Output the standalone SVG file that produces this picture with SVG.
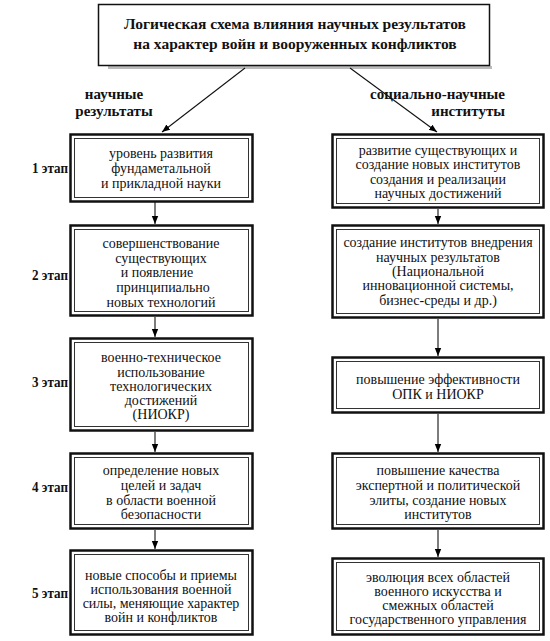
<svg xmlns="http://www.w3.org/2000/svg" width="550" height="641" viewBox="0 0 550 641" font-family="Liberation Serif, Times New Roman, serif">
<defs>
<marker id="ah" viewBox="0 0 10 10" refX="10" refY="5" markerWidth="8" markerHeight="8" markerUnits="userSpaceOnUse" orient="auto">
<path d="M0,1 L10,5 L0,9 Z" fill="#000"/>
</marker>
<style>
.outer{fill:#fff;stroke:#111;stroke-width:2.5}
.inner{fill:none;stroke:#333;stroke-width:1}
.t{font-size:14px;fill:#111;text-anchor:middle}
.b{font-size:15px;font-weight:bold;fill:#111}
.title{font-size:15.5px;font-weight:bold;fill:#111;text-anchor:middle}
.c{stroke:#111;stroke-width:1.1;fill:none;marker-end:url(#ah)}
.sh{fill:#bbb}
</style>
</defs>
<rect width="550" height="641" fill="#fff"/>

<g id="title">
<rect class="sh" x="108" y="66" width="384" height="3"/>
<rect x="98.5" y="4.5" width="391" height="61" fill="#fff" stroke="#111" stroke-width="1.5"/>
<text class="title" x="295" y="29">Логическая схема влияния научных результатов</text>
<text class="title" x="295" y="49">на характер войн и вооруженных конфликтов</text>
</g>

<g id="labels">
<text class="b" x="114" y="99" text-anchor="middle">научные</text>
<text class="b" x="114" y="116" text-anchor="middle">результаты</text>
<text class="b" x="505" y="99" text-anchor="end">социально-научные</text>
<text class="b" x="505" y="116" text-anchor="end">институты</text>
<text class="b" x="32" y="173" textLength="36" lengthAdjust="spacingAndGlyphs">1 этап</text>
<text class="b" x="32" y="280" textLength="36" lengthAdjust="spacingAndGlyphs">2 этап</text>
<text class="b" x="32" y="387" textLength="36" lengthAdjust="spacingAndGlyphs">3 этап</text>
<text class="b" x="32" y="492" textLength="36" lengthAdjust="spacingAndGlyphs">4 этап</text>
<text class="b" x="32" y="598" textLength="36" lengthAdjust="spacingAndGlyphs">5 этап</text>
</g>

<g id="L1">
<rect class="outer" x="70.5" y="134.5" width="182" height="67"/>
<rect class="inner" x="74.5" y="138.5" width="174" height="59"/>
<text class="t" x="161" y="158">уровень развития</text>
<text class="t" x="161" y="173">фундаметальной</text>
<text class="t" x="161" y="188">и прикладной науки</text>
</g>
<g id="L2">
<rect class="outer" x="70.5" y="225.5" width="182" height="90"/>
<rect class="inner" x="74.5" y="229.5" width="174" height="82"/>
<text class="t" x="161" y="248">совершенствование</text>
<text class="t" x="161" y="263">существующих</text>
<text class="t" x="157" y="277">и появление</text>
<text class="t" x="163" y="292">принципиально</text>
<text class="t" x="161" y="307">новых технологий</text>
</g>
<g id="L3">
<rect class="outer" x="70.5" y="338.5" width="182" height="92"/>
<rect class="inner" x="74.5" y="342.5" width="174" height="84"/>
<text class="t" x="161" y="362">военно-техническое</text>
<text class="t" x="161" y="377">использование</text>
<text class="t" x="161" y="391">технологических</text>
<text class="t" x="161" y="405">достижений</text>
<text class="t" x="161" y="419">(НИОКР)</text>
</g>
<g id="L4">
<rect class="outer" x="70.5" y="453.5" width="182" height="75"/>
<rect class="inner" x="74.5" y="457.5" width="174" height="67"/>
<text class="t" x="161" y="475">определение новых</text>
<text class="t" x="161" y="490">целей и задач</text>
<text class="t" x="161" y="505">в области военной</text>
<text class="t" x="161" y="519">безопасности</text>
</g>
<g id="L5">
<rect class="outer" x="70.5" y="550.5" width="182" height="84"/>
<rect class="inner" x="74.5" y="554.5" width="174" height="76"/>
<text class="t" x="161" y="580">новые способы и приемы</text>
<text class="t" x="161" y="594">использования военной</text>
<text class="t" x="161" y="608">силы, меняющие характер</text>
<text class="t" x="161" y="622">войн и конфликтов</text>
</g>

<g id="R1">
<rect class="outer" x="332.5" y="134.5" width="211" height="73"/>
<rect class="inner" x="336.5" y="138.5" width="203" height="65"/>
<text class="t" x="438" y="155">развитие существующих и</text>
<text class="t" x="438" y="169">создание новых институтов</text>
<text class="t" x="438" y="184">создания и реализации</text>
<text class="t" x="438" y="198">научных достижений</text>
</g>
<g id="R2">
<rect class="outer" x="332.5" y="225.5" width="211" height="92"/>
<rect class="inner" x="336.5" y="229.5" width="203" height="84"/>
<text class="t" x="438" y="247">создание институтов внедрения</text>
<text class="t" x="438" y="262">научных результатов</text>
<text class="t" x="438" y="276">(Национальной</text>
<text class="t" x="438" y="290">инновационной системы,</text>
<text class="t" x="438" y="305">бизнес-среды и др.)</text>
</g>
<g id="R3">
<rect class="outer" x="332.5" y="357.5" width="211" height="55"/>
<rect class="inner" x="336.5" y="361.5" width="203" height="47"/>
<text class="t" x="438" y="384">повышение эффективности</text>
<text class="t" x="438" y="399">ОПК и НИОКР</text>
</g>
<g id="R4">
<rect class="outer" x="332.5" y="453.5" width="211" height="75"/>
<rect class="inner" x="336.5" y="457.5" width="203" height="67"/>
<text class="t" x="438" y="475">повышение качества</text>
<text class="t" x="438" y="490">экспертной и политической</text>
<text class="t" x="438" y="505">элиты, создание новых</text>
<text class="t" x="438" y="519">институтов</text>
</g>
<g id="R5">
<rect class="outer" x="332.5" y="558.5" width="211" height="76"/>
<rect class="inner" x="336.5" y="562.5" width="203" height="68"/>
<text class="t" x="438" y="582">эволюция всех областей</text>
<text class="t" x="438" y="596">военного искусства и</text>
<text class="t" x="438" y="610">смежных областей</text>
<text class="t" x="438" y="624">государственного управления</text>
</g>

<g id="connectors">
<line class="c" x1="245" y1="68" x2="162" y2="132"/>
<line class="c" x1="350" y1="68" x2="437" y2="132"/>
<line class="c" x1="155" y1="202" x2="155" y2="224"/>
<line class="c" x1="155" y1="317" x2="155" y2="337"/>
<line class="c" x1="155" y1="432" x2="155" y2="452"/>
<line class="c" x1="155" y1="530" x2="155" y2="549"/>
<line class="c" x1="438" y1="209" x2="438" y2="224"/>
<line class="c" x1="438" y1="319" x2="438" y2="356"/>
<line class="c" x1="438" y1="414" x2="438" y2="452"/>
<line class="c" x1="438" y1="530" x2="438" y2="557"/>
</g>
</svg>
